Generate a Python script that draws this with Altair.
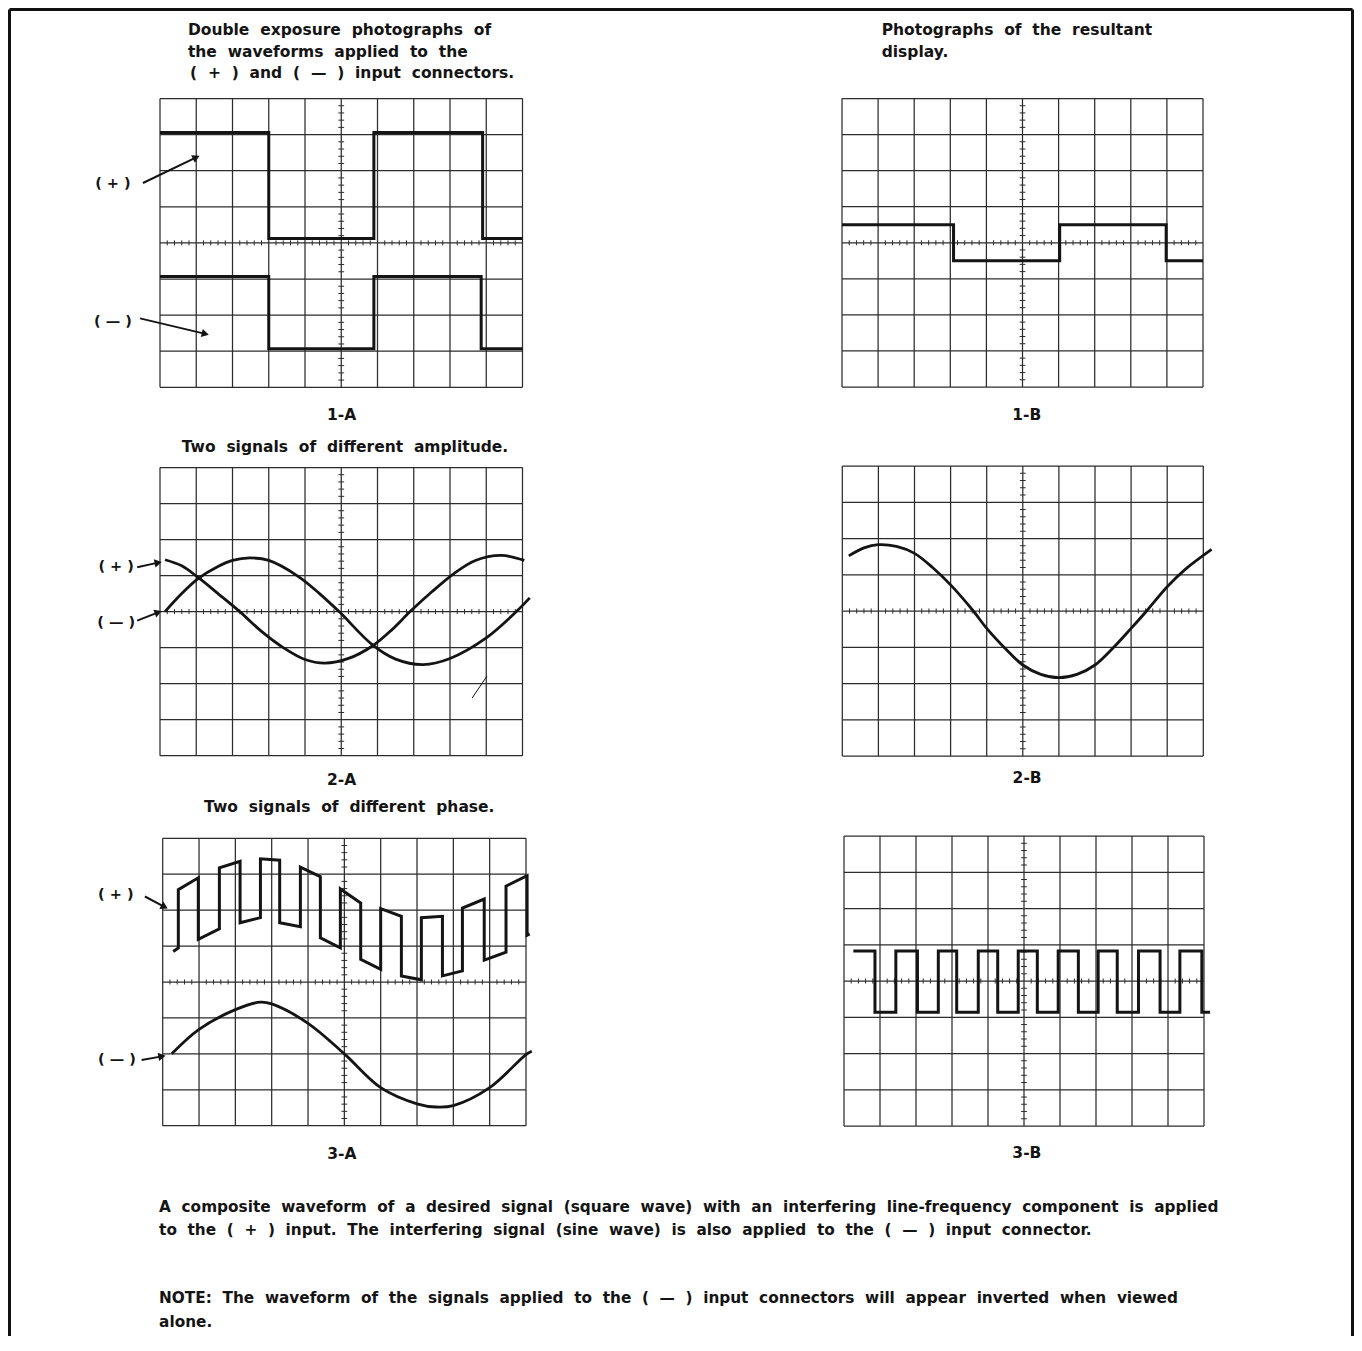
import altair as alt
import pandas as pd

FONT = "DejaVu Sans"
INK = "#141414"
GRID = "#2c2c2c"
NB = "\u00a0"

# ------------------------------------------------------------------
# Values (graticule divisions: x 0..10, y -4..4)
# ------------------------------------------------------------------
# 1-A : two square waves (double exposure)
A1_PLUS_EDGES = [3.0, 5.9, 8.9]
A1_PLUS_HIGH = 3.06
A1_PLUS_LOW = 0.12
A1_MINUS_EDGES = [3.0, 5.9, 8.86]
A1_MINUS_HIGH = -0.93
A1_MINUS_LOW = -2.93
# 1-B : resultant square wave
B1_EDGES = [3.09, 6.03, 8.98]
B1_HIGH = 0.5
B1_LOW = -0.5

# 2-A : two sine waves of different amplitude
A2_PLUS_X = [0.14, 0.6, 1.06, 1.6, 2.2, 2.8, 3.4, 4.0, 4.55, 5.2, 5.88, 6.4, 6.9, 7.5, 8.1, 8.7, 9.42, 10.05]
A2_PLUS_Y = [1.44, 1.27, 0.94, 0.5, 0.0, -0.55, -1.0, -1.33, -1.43, -1.3, -0.94, -0.5, 0.0, 0.55, 1.05, 1.42, 1.56, 1.42]
A2_MINUS_X = [0.14, 0.6, 1.06, 1.6, 2.0, 2.48, 3.0, 3.81, 4.4, 4.94, 5.88, 6.5, 7.26, 8.0, 9.0, 9.83, 10.2]
A2_MINUS_Y = [0.0, 0.5, 0.92, 1.25, 1.42, 1.49, 1.42, 0.98, 0.5, 0.0, -0.94, -1.32, -1.47, -1.3, -0.73, 0.0, 0.38]
A2_SCRATCH_X = [8.61, 9.02]
A2_SCRATCH_Y = [-2.4, -1.79]
# 2-B : resultant sine
B2_X = [0.18, 0.6, 1.0, 1.5, 2.0, 2.5, 3.0, 3.63, 4.0, 4.5, 5.0, 5.5, 6.0, 6.5, 7.0, 7.5, 8.0, 8.43, 9.0, 9.5, 10.23]
B2_Y = [1.52, 1.74, 1.83, 1.78, 1.59, 1.2, 0.72, 0.0, -0.48, -1.02, -1.49, -1.75, -1.84, -1.75, -1.49, -1.02, -0.48, 0.0, 0.67, 1.15, 1.70]

# 3-A : composite (+) trace (corner points) and sine (-) trace
A3_PLUS_X = [0.29, 0.43, 0.43, 0.98, 0.98, 1.56, 1.56, 2.13, 2.13, 2.69, 2.69, 3.22, 3.22, 3.79, 3.79,
             4.34, 4.34, 4.89, 4.89, 5.45, 5.45, 6.0, 6.0, 6.57, 6.57, 7.12, 7.12, 7.7, 7.7, 8.25, 8.25,
             8.85, 8.85, 9.45, 9.45, 10.03, 10.03, 10.1]
A3_PLUS_Y = [0.85, 0.95, 2.57, 2.9, 1.19, 1.48, 3.18, 3.36, 1.65, 1.79, 3.43, 3.39, 1.65, 1.54, 3.2,
             2.93, 1.23, 0.95, 2.59, 2.2, 0.63, 0.35, 2.04, 1.83, 0.17, 0.06, 1.79, 1.83, 0.17, 0.31, 2.06,
             2.31, 0.61, 0.83, 2.67, 2.96, 1.30, 1.34]
A3_MINUS_X = [0.25, 1.0, 2.0, 2.69, 3.0, 4.0, 5.0, 6.0, 7.0, 7.52, 8.0, 9.0, 10.0, 10.16]
A3_MINUS_Y = [-2.0, -1.32, -0.77, -0.56, -0.61, -1.15, -2.0, -2.94, -3.39, -3.48, -3.44, -2.94, -2.02, -1.93]
# 3-B : resultant square wave
B3_EDGES = [0.86, 1.44, 2.04, 2.62, 3.13, 3.73, 4.27, 4.84, 5.37, 5.95, 6.51, 7.06,
            7.59, 8.18, 8.78, 9.33, 9.94]
B3_HIGH = 0.83
B3_LOW = -0.86
B3_START = 0.26
B3_END = 10.17

# Texts
TITLE_1A = ["Double exposure photographs of", "the waveforms applied to the", "( + ) and ( — ) input connectors."]
TITLE_1B = ["Photographs of the resultant", "display."]
TITLE_2A = ["Two signals of different amplitude."]
TITLE_3A = ["Two signals of different phase."]
NOTES = [
    "A composite waveform of a desired signal (square wave) with an interfering line-frequency component is applied",
    "to the ( + ) input. The interfering signal (sine wave) is also applied to the ( — ) input connector.",
    "NOTE: The waveform of the signals applied to the ( — ) input connectors will appear inverted when viewed",
    "alone.",
]
LABELS = ["1-A", "1-B", "2-A", "2-B", "3-A", "3-B"]

# ------------------------------------------------------------------
# Layout (page pixels) -- not data
# ------------------------------------------------------------------
W, H = 1346, 1328
GEOM = {
    "1-A": dict(l=160, r=522.5, t=98.5, b=387.3),
    "1-B": dict(l=842, r=1203, t=98.5, b=387),
    "2-A": dict(l=160, r=522.5, t=467.5, b=755.7),
    "2-B": dict(l=842.3, r=1203.3, t=466, b=756),
    "3-A": dict(l=162.7, r=526, t=838.3, b=1125.7),
    "3-B": dict(l=844, r=1204, t=836, b=1126),
}
TEXT_SIZE = 15.5
NOTE_SIZE = 15.3


def spaced(s, n=2):
    return (NB * (n - 1) + " ").join(s.split(" "))


def square(edges, high, low, x0=0.0, x1=10.0):
    xs, ys = [x0], [high]
    cur, other = high, low
    for e in edges:
        xs += [e, e]
        ys += [cur, other]
        cur, other = other, cur
    xs.append(x1)
    ys.append(cur)
    return xs, ys


def wave_df(series):
    rows = []
    for name, xs, ys in series:
        for i, (x, y) in enumerate(zip(xs, ys)):
            rows.append({"s": name, "i": i, "x": x, "y": y})
    return pd.DataFrame(rows)


def panel(key, steps=None, curves=None, texts=None, notes=None, labels=None, arrows=None, extra_rules=None):
    g = GEOM[key]
    xs = alt.Scale(domain=[0, 10], range=[g["l"] - 8, g["r"] - 8], nice=False, zero=False)
    ys = alt.Scale(domain=[-4, 4], range=[g["b"] - 8, g["t"] - 8], nice=False, zero=False)
    X = lambda f="x": alt.X(f + ":Q", scale=xs, axis=None)
    Y = lambda f="y": alt.Y(f + ":Q", scale=ys, axis=None)

    grid = [{"x": i, "x2": i, "y": -4, "y2": 4} for i in range(11)]
    grid += [{"x": 0, "x2": 10, "y": j, "y2": j} for j in range(-4, 5)]
    ticks = [{"x": k / 5, "x2": k / 5, "y": -0.07, "y2": 0.07} for k in range(1, 50) if k % 5]
    ticks += [{"x": 4.92, "x2": 5.08, "y": -4 + k / 5, "y2": -4 + k / 5} for k in range(1, 40) if k % 5]

    layers = [
        alt.Chart(pd.DataFrame(grid)).mark_rule(color=GRID, strokeWidth=1.25).encode(
            x=X(), x2="x2:Q", y=Y(), y2="y2:Q"),
        alt.Chart(pd.DataFrame(ticks)).mark_rule(color=GRID, strokeWidth=1).encode(
            x=X(), x2="x2:Q", y=Y(), y2="y2:Q"),
    ]
    if steps:
        layers.append(alt.Chart(wave_df(steps)).mark_line(
            color=INK, strokeWidth=3, interpolate="linear", strokeJoin="miter").encode(
            x=X(), y=Y(), detail="s:N", order="i:Q"))
    if curves:
        layers.append(alt.Chart(wave_df(curves)).mark_line(
            color=INK, strokeWidth=2.8, interpolate="catmull-rom").encode(
            x=X(), y=Y(), detail="s:N", order="i:Q"))
    if extra_rules:
        layers.append(alt.Chart(pd.DataFrame(extra_rules)).mark_rule(color=INK, strokeWidth=1).encode(
            x=X(), x2="x2:Q", y=Y(), y2="y2:Q"))
    if arrows:
        lab = pd.DataFrame([{"x": a["tx"], "y": a["ty"], "t": a["t"]} for a in arrows])
        shafts = pd.DataFrame([{"x": a["x"], "x2": a["x2"], "y": a["y"], "y2": a["y2"]} for a in arrows])
        heads = pd.DataFrame([{"x": a["x2"], "y": a["y2"], "a": a["a"]} for a in arrows])
        layers += [
            alt.Chart(lab).mark_text(font=FONT, fontWeight="bold", fontSize=14.5, color=INK,
                                     align="center", baseline="middle").encode(x=X(), y=Y(), text="t:N"),
            alt.Chart(shafts).mark_rule(color=INK, strokeWidth=2).encode(
                x=X(), x2="x2:Q", y=Y(), y2="y2:Q"),
            alt.Chart(heads).mark_point(shape="triangle-right", filled=True, size=70, color=INK,
                                        opacity=1).encode(
                x=X(), y=Y(), angle=alt.Angle("a:Q", scale=None)),
        ]
    if texts:
        layers.append(alt.Chart(pd.DataFrame(texts)).mark_text(
            font=FONT, fontWeight="bold", fontSize=TEXT_SIZE, color=INK, align="left",
            baseline="middle").encode(x=X(), y=Y(), text="t:N"))
    if notes:
        layers.append(alt.Chart(pd.DataFrame(notes)).mark_text(
            font=FONT, fontWeight="bold", fontSize=NOTE_SIZE, color=INK, align="left",
            baseline="middle").encode(x=X(), y=Y(), text="t:N"))
    if labels:
        layers.append(alt.Chart(pd.DataFrame(labels)).mark_text(
            font=FONT, fontWeight="bold", fontSize=TEXT_SIZE, color=INK, align="center",
            baseline="middle").encode(x=X(), y=Y(), text="t:N"))
    return alt.layer(*layers)


# ---------------- panels ----------------
p1a = panel(
    "1-A",
    steps=[("plus", *square(A1_PLUS_EDGES, A1_PLUS_HIGH, A1_PLUS_LOW)),
           ("minus", *square(A1_MINUS_EDGES, A1_MINUS_HIGH, A1_MINUS_LOW))],
    texts=[{"x": 0.77, "y": 5.90, "t": spaced(TITLE_1A[0])},
           {"x": 0.77, "y": 5.29, "t": spaced(TITLE_1A[1])},
           {"x": 0.83, "y": 4.71, "t": spaced(TITLE_1A[2])}],
    labels=[{"x": 5.01, "y": -4.77, "t": LABELS[0]}],
    arrows=[dict(t="( + )", tx=-1.30, ty=1.64, x=-0.47, y=1.66, x2=1.0, y2=2.37, a=334),
            dict(t="( — )", tx=-1.30, ty=-2.19, x=-0.55, y=-2.09, x2=1.25, y2=-2.52, a=14)],
)
p1b = panel(
    "1-B",
    steps=[("res", *square(B1_EDGES, B1_HIGH, B1_LOW))],
    texts=[{"x": 1.10, "y": 5.90, "t": spaced(TITLE_1B[0])},
           {"x": 1.10, "y": 5.29, "t": spaced(TITLE_1B[1])}],
    labels=[{"x": 5.12, "y": -4.77, "t": LABELS[1]}],
)
p2a = panel(
    "2-A",
    curves=[("plus", A2_PLUS_X, A2_PLUS_Y), ("minus", A2_MINUS_X, A2_MINUS_Y)],
    texts=[{"x": 0.6, "y": 4.57, "t": spaced(TITLE_2A[0])}],
    labels=[{"x": 5.01, "y": -4.68, "t": LABELS[2]}],
    arrows=[dict(t="( + )", tx=-1.21, ty=1.24, x=-0.63, y=1.23, x2=-0.05, y2=1.36, a=349),
            dict(t="( — )", tx=-1.21, ty=-0.31, x=-0.63, y=-0.25, x2=-0.05, y2=-0.02, a=340)],
    extra_rules=[{"x": A2_SCRATCH_X[0], "x2": A2_SCRATCH_X[1], "y": A2_SCRATCH_Y[0], "y2": A2_SCRATCH_Y[1]}],
)
p2b = panel(
    "2-B",
    curves=[("res", B2_X, B2_Y)],
    labels=[{"x": 5.12, "y": -4.61, "t": LABELS[3]}],
)
p3a = panel(
    "3-A",
    steps=[("plus", A3_PLUS_X, A3_PLUS_Y)],
    curves=[("minus", A3_MINUS_X, A3_MINUS_Y)],
    texts=[{"x": 1.14, "y": 4.88, "t": spaced(TITLE_3A[0])}],
    notes=[{"x": -0.10, "y": -6.27, "t": spaced(NOTES[0])},
           {"x": -0.10, "y": -6.91, "t": spaced(NOTES[1])},
           {"x": -0.10, "y": -8.80, "t": spaced(NOTES[2])},
           {"x": -0.10, "y": -9.47, "t": spaced(NOTES[3])}],
    labels=[{"x": 4.93, "y": -4.79, "t": LABELS[4]}],
    arrows=[dict(t="( + )", tx=-1.29, ty=2.42, x=-0.49, y=2.38, x2=0.05, y2=2.09, a=28),
            dict(t="( — )", tx=-1.26, ty=-2.17, x=-0.58, y=-2.17, x2=-0.02, y2=-2.07, a=350)],
)
p3b = panel(
    "3-B",
    steps=[("res", *square(B3_EDGES, B3_HIGH, B3_LOW, B3_START, B3_END))],
    labels=[{"x": 5.08, "y": -4.74, "t": LABELS[5]}],
)

# page frame (top, left and right edges)
frame_df = pd.DataFrame([
    {"x": 0, "x2": 1, "y": 0, "y2": 0},
    {"x": 0, "x2": 0, "y": 0, "y2": 1},
    {"x": 1, "x2": 1, "y": 0, "y2": 1},
])
frame = alt.Chart(frame_df).mark_rule(color="#111", strokeWidth=3).encode(
    x=alt.X("x:Q", scale=alt.Scale(domain=[0, 1], range=[1.5, W - 1.5], nice=False), axis=None),
    x2="x2:Q",
    y=alt.Y("y:Q", scale=alt.Scale(domain=[0, 1], range=[1.5, H], nice=False), axis=None),
    y2="y2:Q",
)

chart = alt.layer(frame, p1a, p1b, p2a, p2b, p3a, p3b).resolve_scale(
    x="independent", y="independent"
).properties(
    width=W, height=H, padding=0, autosize=alt.AutoSizeParams(type="none"),
    background="white",
).configure_view(stroke=None)

chart.save("out.html", embed_options={"renderer": "svg", "actions": False})
